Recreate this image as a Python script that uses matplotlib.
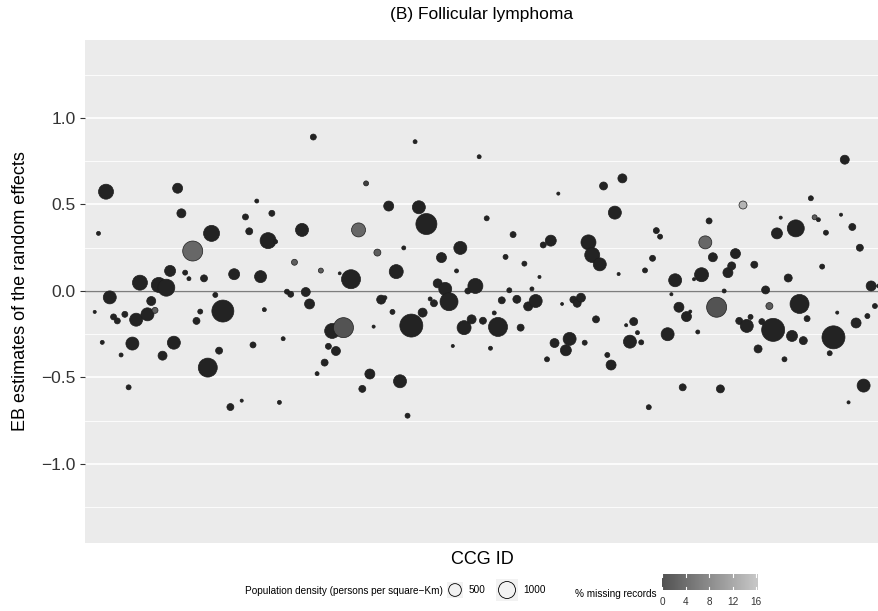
import numpy as np
import matplotlib
matplotlib.use("Agg")
import matplotlib.pyplot as plt
from matplotlib.colors import LinearSegmentedColormap, Normalize

plt.rcParams['font.family'] = ['Liberation Sans', 'DejaVu Sans']

# ---------------- data ----------------
ccg_id = [1, 2, 3, 4, 5, 6, 7, 8, 9, 10, 11, 12, 13, 15, 16, 17, 18, 19, 20, 21,
          22, 23, 24, 25, 26, 27, 28, 29, 30, 31, 32, 33, 34, 35, 37, 38, 40, 41, 42, 43,
          44, 45, 46, 47, 48, 49, 50, 51, 52, 53, 54, 56, 57, 58, 59, 60, 61, 62, 63, 64,
          65, 66, 67, 69, 71, 72, 73, 74, 75, 76, 77, 78, 79, 80, 81, 82, 83, 84, 85, 86,
          87, 88, 89, 90, 91, 92, 93, 94, 95, 96, 97, 98, 99, 100, 101, 102, 103, 104, 105, 106,
          107, 108, 109, 110, 111, 112, 113, 114, 115, 116, 117, 118, 119, 120, 121, 122, 123, 124, 125, 126,
          127, 128, 129, 130, 131, 132, 133, 134, 135, 136, 137, 138, 139, 140, 141, 142, 143, 144, 145, 146,
          147, 148, 149, 150, 151, 153, 154, 155, 156, 157, 158, 159, 160, 161, 162, 163, 164, 165, 166, 167,
          168, 169, 170, 171, 172, 173, 174, 175, 176, 177, 178, 179, 180, 181, 182, 183, 184, 185, 186, 187,
          188, 189, 190, 191, 192, 193, 194, 195, 196, 197, 198, 199, 200, 201, 202, 203, 204, 205, 206, 207,
          208, 209]

eb_estimate = [-0.121, 0.333, -0.297, 0.574, -0.037, -0.150, -0.173, -0.370, -0.135, -0.557,
               -0.304, -0.166, 0.048, -0.135, -0.058, -0.112, 0.035, -0.374, 0.019, 0.116,
               -0.299, 0.594, 0.449, 0.106, 0.071, 0.231, -0.173, -0.119, 0.073, -0.443,
               0.333, -0.023, -0.345, -0.116, -0.671, 0.097, -0.634, 0.428, 0.345, -0.312,
               0.520, 0.083, -0.108, 0.291, 0.449, 0.285, -0.644, -0.276, -0.004, -0.019,
               0.166, 0.353, -0.006, -0.075, 0.890, -0.478, 0.118, -0.414, -0.320, -0.231,
               -0.347, 0.102, -0.212, 0.068, 0.353, -0.566, 0.622, -0.480, -0.206, 0.222,
               -0.050, -0.039, 0.491, -0.121, 0.112, -0.522, 0.249, -0.721, -0.200, 0.863,
               0.484, -0.125, 0.387, -0.046, -0.071, 0.044, 0.193, 0.012, -0.062, -0.318,
               0.116, 0.249, -0.212, 0.000, -0.164, 0.029, 0.776, -0.172, 0.420, -0.331,
               -0.127, -0.208, -0.054, 0.197, 0.004, 0.326, -0.048, -0.212, 0.158, -0.089,
               0.012, -0.058, 0.081, 0.266, -0.395, 0.291, -0.301, 0.563, -0.075, -0.343,
               -0.277, -0.050, -0.071, -0.039, -0.299, 0.281, 0.208, -0.164, 0.154, 0.607,
               -0.370, -0.428, 0.453, 0.098, 0.651, -0.198, -0.293, -0.177, -0.241, -0.297,
               0.119, -0.672, 0.189, 0.349, 0.314, -0.250, -0.019, 0.062, -0.094, -0.557,
               -0.148, -0.119, 0.068, -0.237, 0.094, 0.281, 0.405, 0.195, -0.094, -0.566,
               0.000, 0.106, 0.145, 0.216, -0.173, 0.497, -0.202, -0.150, 0.152, -0.335,
               -0.177, 0.006, -0.087, -0.225, 0.333, 0.424, -0.395, 0.075, -0.260, 0.362,
               -0.075, -0.287, -0.160, 0.536, 0.426, 0.412, 0.141, 0.337, -0.360, -0.268,
               -0.125, 0.441, 0.759, -0.644, 0.370, -0.185, 0.250, -0.547, -0.145, 0.029,
               -0.087, 0.029]

pop_density = [2, 11, 11, 744, 525, 58, 58, 11, 58, 30,
               525, 525, 744, 525, 201, 58, 744, 201, 1001, 344,
               525, 268, 201, 30, 11, 1458, 96, 30, 96, 1296,
               868, 30, 96, 1811, 96, 344, 2, 58, 96, 58,
               11, 430, 11, 868, 58, 11, 11, 11, 30, 58,
               58, 525, 201, 268, 58, 11, 30, 96, 58, 744,
               201, 1, 1458, 1296, 630, 96, 30, 268, 2, 96,
               201, 11, 268, 30, 630, 525, 11, 30, 2001, 11,
               525, 201, 1630, 11, 96, 201, 268, 525, 1144, 2,
               11, 525, 630, 58, 201, 744, 11, 96, 30, 11,
               11, 1296, 96, 30, 30, 58, 144, 96, 30, 201,
               11, 525, 2, 58, 30, 344, 201, 2, 1, 344,
               525, 96, 144, 201, 30, 744, 744, 96, 525, 144,
               30, 268, 525, 2, 201, 2, 525, 144, 11, 30,
               30, 30, 58, 58, 30, 525, 2, 525, 268, 96,
               268, 2, 2, 11, 630, 525, 58, 201, 1458, 144,
               11, 268, 144, 268, 96, 144, 525, 30, 96, 144,
               58, 144, 96, 2001, 344, 2, 30, 144, 344, 1001,
               1296, 144, 58, 30, 30, 11, 30, 30, 30, 2001,
               2, 2, 201, 2, 96, 268, 96, 525, 30, 268,
               30, 11]

pct_missing = [0, 0, 0, 0, 0, 0, 0, 0, 0, 0,
               0, 0, 0, 0, 0, 6, 0, 0, 0, 0,
               0, 0, 0, 0, 0, 7, 0, 0, 0, 0,
               0, 0, 0, 0, 0, 0, 0, 0, 0, 0,
               0, 0, 0, 0, 0, 0, 0, 0, 0, 0,
               6, 0, 0, 0, 0, 0, 6, 0, 0, 0,
               0, 0, 5, 0, 7, 0, 3, 0, 0, 6,
               0, 0, 0, 0, 0, 0, 0, 0, 0, 0,
               0, 0, 0, 0, 0, 0, 0, 0, 0, 0,
               0, 0, 0, 0, 0, 0, 0, 0, 0, 0,
               0, 0, 0, 0, 0, 0, 0, 0, 0, 0,
               0, 0, 0, 0, 0, 0, 0, 0, 0, 0,
               0, 0, 0, 0, 0, 0, 0, 0, 0, 0,
               0, 0, 0, 0, 0, 0, 0, 0, 0, 0,
               0, 0, 0, 0, 0, 0, 0, 0, 0, 0,
               0, 0, 0, 0, 0, 7, 0, 0, 5, 0,
               0, 0, 0, 0, 0, 15, 0, 0, 0, 0,
               0, 0, 6, 0, 0, 0, 0, 0, 0, 0,
               0, 0, 0, 0, 6, 0, 0, 0, 0, 0,
               0, 0, 0, 0, 0, 0, 0, 0, 0, 0,
               0, 0]

y_ticks = [-1.0, -0.5, 0.0, 0.5, 1.0]
y_minor = [-1.25, -0.75, -0.25, 0.25, 0.75, 1.25]
size_breaks = [500, 1000]
missing_breaks = [0, 4, 8, 12, 16]

# ---------------- styling helpers ----------------
W, H = 879, 611
DMAX = 2100.0


def diam_px(d):
    return 2.5 + 21.0 * np.sqrt(np.asarray(d, dtype=float) / DMAX)


def marker_area(d):
    return (diam_px(d) * 72.0 / 100.0) ** 2


def fy(px):
    return 1 - px / H


point_cmap = LinearSegmentedColormap.from_list('miss', ['#232323', '#bdbdbd'])
legend_cmap = LinearSegmentedColormap.from_list('missleg', ['#525252', '#c6c6c6'])
norm = Normalize(0, 16)

fig = plt.figure(figsize=(W / 100, H / 100), dpi=100)
fig.patch.set_facecolor('white')

# main panel
P_TOP, P_BOT = 40, 543
ax = fig.add_axes([85 / W, fy(P_BOT), 794 / W, (P_BOT - P_TOP) / H])
ax.set_facecolor('#ebebeb')
ax.set_xlim(-1.574, 209.08)
ax.set_ylim(-1.457, 1.451)
for y in y_minor:
    ax.axhline(y, color='white', lw=0.6, zorder=0)
for y in y_ticks:
    ax.axhline(y, color='white', lw=1.2, zorder=0)
ax.axhline(0, color='#7d7d7d', lw=1.0, zorder=1)

ax.scatter(ccg_id, eb_estimate, s=marker_area(pop_density),
           c=point_cmap(norm(np.array(pct_missing, dtype=float))),
           edgecolors='#1e1e1e', linewidths=0.5, zorder=3)

for sp in ax.spines.values():
    sp.set_visible(False)
ax.set_xticks([])
ax.set_yticks(y_ticks)
ax.set_yticklabels([f"{t:.1f}".replace('-', '\u2212') for t in y_ticks])
ax.tick_params(axis='y', length=3.5, width=0.8, color='#333333',
               labelsize=12.5, labelcolor='#333333', pad=3)
ax.set_ylabel('EB estimates of the random effects', fontsize=13, labelpad=9)

fig.text(482 / W, fy(14), '(B) Follicular lymphoma', fontsize=12.5, ha='center', va='center')
fig.text(482 / W, fy(559), 'CCG ID', fontsize=13, ha='center', va='center')

# ---------------- legend: population density ----------------
ROW = 590
fig.text(443 / W, fy(ROW + 1), 'Population density (persons per square\u2212Km)',
         fontsize=7.2, ha='right', va='center')
key_sizes = [16, 22]
for br, cx, lx, kw in zip(size_breaks, [455, 507], [469, 523], key_sizes):
    kax = fig.add_axes([(cx - kw / 2) / W, fy(ROW + kw / 2), kw / W, kw / H])
    kax.set_xlim(-1, 1)
    kax.set_ylim(-1, 1)
    kax.axis('off')
    kax.add_patch(plt.Rectangle((-1, -1), 2, 2, color='#f2f2f2', zorder=0))
    kax.scatter([0], [0], s=marker_area(br), facecolors='none', edgecolors='black',
                linewidths=0.6, zorder=2)
    fig.text(lx / W, fy(ROW), str(br), fontsize=7.2, ha='left', va='center')

# ---------------- legend: % missing ----------------
fig.text(657 / W, fy(ROW + 4), '% missing records', fontsize=7.2, ha='right', va='center')
cb_l, cb_r, cb_t, cb_b = 662, 758, 574, 590
cax = fig.add_axes([cb_l / W, fy(cb_b), (cb_r - cb_l) / W, (cb_b - cb_t) / H])
grad = np.linspace(0, 16.3, 256).reshape(1, -1)
cax.imshow(grad, aspect='auto', cmap=legend_cmap, norm=norm, extent=(0, 16.3, 0, 1))
cax.set_xlim(0, 16.3)
cax.set_ylim(0, 1)
for b in missing_breaks:
    cax.plot([b, b], [0, 0.2], color='white', lw=0.8)
    cax.plot([b, b], [0.8, 1], color='white', lw=0.8)
cax.axis('off')
for b in missing_breaks:
    xp = cb_l + (cb_r - cb_l) * b / 16.3
    fig.text(xp / W, fy(602), str(b), fontsize=7.2, ha='center', va='center', color='#333333')

fig.savefig('out.png', dpi=100)
